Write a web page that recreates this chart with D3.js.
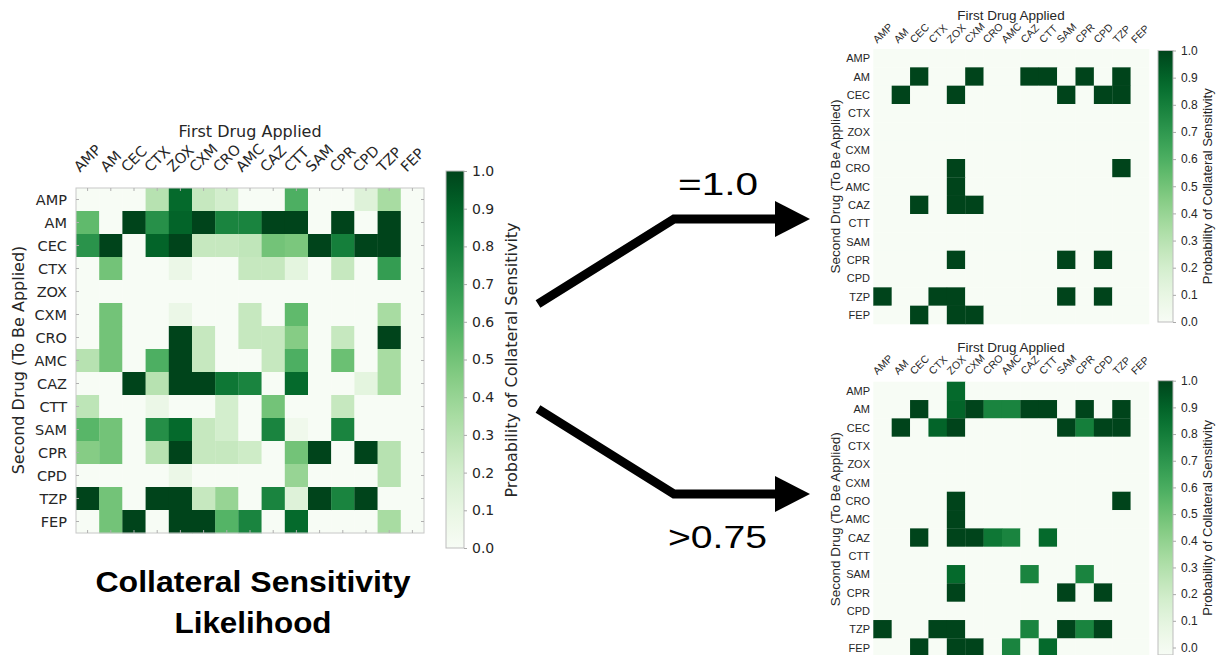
<!DOCTYPE html>
<html>
<head>
<meta charset="utf-8">
<script src="https://cdn.jsdelivr.net/npm/d3@7"></script>
<style>
  html, body { margin: 0; padding: 0; background: #ffffff; }
  svg { display: block; }
</style>
</head>
<body>
<svg id="chart" width="1219" height="655"></svg>
<script>
// ---------- DATA ----------
const drugs = ["AMP","AM","CEC","CTX","ZOX","CXM","CRO","AMC","CAZ","CTT","SAM","CPR","CPD","TZP","FEP"];
// rows: second drug (to be applied); columns: first drug applied (same order as drugs)
const rowAMP = [0.00,0.00,0.00,0.30,0.88,0.25,0.20,0.00,0.00,0.60,0.00,0.00,0.15,0.35,0.00];
const rowAM  = [0.55,0.00,1.00,0.73,0.90,1.00,0.78,0.78,1.00,1.00,0.00,1.00,0.00,1.00,0.00];
const rowCEC = [0.72,1.00,0.00,0.90,1.00,0.25,0.25,0.27,0.50,0.48,1.00,0.80,1.00,1.00,0.00];
const rowCTX = [0.00,0.50,0.00,0.00,0.08,0.00,0.00,0.25,0.25,0.12,0.00,0.25,0.00,0.68,0.00];
const rowZOX = [0.00,0.00,0.00,0.00,0.00,0.00,0.00,0.00,0.00,0.00,0.00,0.00,0.00,0.00,0.00];
const rowCXM = [0.00,0.50,0.00,0.00,0.08,0.00,0.00,0.25,0.00,0.55,0.00,0.00,0.00,0.35,0.00];
const rowCRO = [0.00,0.50,0.00,0.00,1.00,0.25,0.00,0.25,0.25,0.45,0.00,0.25,0.00,1.00,0.00];
const rowAMC = [0.30,0.50,0.00,0.60,1.00,0.25,0.00,0.00,0.25,0.60,0.00,0.52,0.00,0.35,0.00];
const rowCAZ = [0.00,0.00,1.00,0.30,1.00,1.00,0.83,0.78,0.00,0.88,0.00,0.00,0.12,0.35,0.00];
const rowCTT = [0.28,0.00,0.00,0.08,0.00,0.00,0.20,0.00,0.50,0.00,0.00,0.25,0.00,0.00,0.00];
const rowSAM = [0.57,0.50,0.00,0.74,0.88,0.25,0.20,0.00,0.78,0.05,0.00,0.78,0.00,0.00,0.00];
const rowCPR = [0.45,0.50,0.00,0.30,1.00,0.25,0.25,0.22,0.00,0.50,1.00,0.00,1.00,0.30,0.00];
const rowCPD = [0.00,0.00,0.00,0.00,0.08,0.00,0.00,0.00,0.00,0.40,0.00,0.00,0.00,0.30,0.00];
const rowTZP = [1.00,0.50,0.00,1.00,1.00,0.25,0.40,0.00,0.78,0.15,1.00,0.78,1.00,0.00,0.00];
const rowFEP = [0.00,0.50,1.00,0.00,1.00,1.00,0.58,0.78,0.00,0.88,0.00,0.00,0.00,0.35,0.00];
const matrixRows = [rowAMP,rowAM,rowCEC,rowCTX,rowZOX,rowCXM,rowCRO,rowAMC,rowCAZ,rowCTT,rowSAM,rowCPR,rowCPD,rowTZP,rowFEP];
const colorbarTicks = [0.0,0.1,0.2,0.3,0.4,0.5,0.6,0.7,0.8,0.9,1.0];
const thresholdLabels = ["=1.0", ">0.75"];

// ---------- HELPERS ----------
const svg = d3.select("#chart");
const color = d3.scaleSequential(d3.interpolateGreens).domain([0, 1]);
const cells = [];
matrixRows.forEach((row, r) => row.forEach((v, c) => cells.push({ row: drugs[r], col: drugs[c], v })));

const defs = svg.append("defs");
const grad = defs.append("linearGradient").attr("id", "greensGrad")
  .attr("x1", "0").attr("y1", "1").attr("x2", "0").attr("y2", "0");
d3.range(0, 1.0001, 0.05).forEach(t => grad.append("stop").attr("offset", t).attr("stop-color", color(t)));

function rotatedLabels(g, x, bottomY, fontSize, family, fill) {
  drugs.forEach(d => {
    const t = g.append("text")
      .attr("text-anchor", "middle")
      .attr("dominant-baseline", "central")
      .style("font-family", family)
      .style("font-size", fontSize + "px")
      .attr("fill", fill)
      .text(d);
    const L = t.node().getComputedTextLength();
    const h = 0.72 * fontSize;
    const cy = bottomY - (L + h) / (2 * Math.SQRT2);
    const cx = x(d) + x.bandwidth() / 2;
    t.attr("transform", `translate(${cx},${cy}) rotate(-45)`);
  });
}

function drawHeatmap(g, data, x, y) {
  g.selectAll("rect.cell").data(data).join("rect")
    .attr("class", "cell")
    .attr("x", d => x(d.col))
    .attr("y", d => y(d.row))
    .attr("width", x.bandwidth() + 0.3)
    .attr("height", y.bandwidth() + 0.3)
    .attr("fill", d => color(d.v));
}

function drawColorbar(g, x0, w, cbY, yTop, yBottom, fontSize, family, tickFill) {
  g.append("rect").attr("x", x0).attr("y", yTop).attr("width", w).attr("height", yBottom - yTop)
    .attr("fill", "url(#greensGrad)").attr("stroke", "#bdbdbd").attr("stroke-width", 1);
  const ax = d3.axisRight(cbY).tickValues(colorbarTicks).tickFormat(d3.format(".1f")).tickSize(3).tickPadding(5);
  const a = g.append("g").attr("transform", `translate(${x0 + w},0)`).call(ax);
  a.select(".domain").remove();
  a.selectAll(".tick line").attr("stroke", "#aaaaaa");
  a.selectAll(".tick text").style("font-family", family).style("font-size", fontSize + "px").attr("fill", tickFill);
}

// ---------- MAIN HEATMAP ----------
const mainFont = "'DejaVu Sans', sans-serif";
const textCol = "#262626";
const mx = d3.scaleBand().domain(drugs).range([76, 424]);
const my = d3.scaleBand().domain(drugs).range([188, 533]);
const gMain = svg.append("g");
drawHeatmap(gMain, cells, mx, my);
gMain.append("rect").attr("x", 76).attr("y", 188).attr("width", 348).attr("height", 345)
  .attr("fill", "none").attr("stroke", "#c8c8c8").attr("stroke-width", 1);

// inward ticks
const tickCol = "#b0b0b0";
drugs.forEach(d => {
  const cx = mx(d) + mx.bandwidth() / 2, cy = my(d) + my.bandwidth() / 2;
  gMain.append("line").attr("x1", cx).attr("x2", cx).attr("y1", 188).attr("y2", 191).attr("stroke", tickCol);
  gMain.append("line").attr("x1", cx).attr("x2", cx).attr("y1", 533).attr("y2", 530).attr("stroke", tickCol);
  gMain.append("line").attr("y1", cy).attr("y2", cy).attr("x1", 76).attr("x2", 79).attr("stroke", tickCol);
  gMain.append("line").attr("y1", cy).attr("y2", cy).attr("x1", 424).attr("x2", 421).attr("stroke", tickCol);
});

// y labels
gMain.selectAll("text.ylab").data(drugs).join("text")
  .attr("class", "ylab")
  .attr("x", 67).attr("y", d => my(d) + my.bandwidth() / 2)
  .attr("text-anchor", "end").attr("dominant-baseline", "central")
  .style("font-family", mainFont).style("font-size", "14.5px").attr("fill", textCol)
  .text(d => d);
rotatedLabels(gMain, mx, 173, 14.5, mainFont, textCol);

gMain.append("text").attr("x", 250).attr("y", 137).attr("text-anchor", "middle")
  .style("font-family", mainFont).style("font-size", "16px").attr("fill", textCol).text("First Drug Applied");
gMain.append("text").attr("transform", "translate(18,360) rotate(-90)")
  .attr("text-anchor", "middle").attr("dominant-baseline", "central")
  .style("font-family", mainFont).style("font-size", "16px").attr("fill", textCol).text("Second Drug (To Be Applied)");

const mainCbY = d3.scaleLinear().domain([0, 1]).range([548, 171]);
drawColorbar(gMain, 446, 18, mainCbY, 171, 548, 14, mainFont, textCol);
gMain.append("text").attr("transform", "translate(511,360) rotate(-90)")
  .attr("text-anchor", "middle").attr("dominant-baseline", "central")
  .style("font-family", mainFont).style("font-size", "16px").attr("fill", textCol).text("Probability of Collateral Sensitivity");

// title
const titleFont = "'Liberation Sans', Arial, sans-serif";
svg.append("text").attr("x", 253).attr("y", 592).attr("text-anchor", "middle")
  .attr("textLength", 315).attr("lengthAdjust", "spacingAndGlyphs")
  .style("font-family", titleFont).style("font-weight", "bold").style("font-size", "29px").attr("fill", "#000")
  .text("Collateral Sensitivity");
svg.append("text").attr("x", 253).attr("y", 633).attr("text-anchor", "middle")
  .attr("textLength", 157).attr("lengthAdjust", "spacingAndGlyphs")
  .style("font-family", titleFont).style("font-weight", "bold").style("font-size", "29px").attr("fill", "#000")
  .text("Likelihood");

// ---------- ARROWS ----------
const arrowLine = d3.line();
const gArr = svg.append("g");
gArr.append("path").attr("d", arrowLine([[538, 304], [674, 219], [778, 219]]))
  .attr("fill", "none").attr("stroke", "#000").attr("stroke-width", 9).attr("stroke-linejoin", "miter");
gArr.append("path").attr("d", arrowLine([[775, 201], [810, 219], [775, 237]]) + "Z").attr("fill", "#000");
gArr.append("path").attr("d", arrowLine([[538, 409], [674, 494], [778, 494]]))
  .attr("fill", "none").attr("stroke", "#000").attr("stroke-width", 9).attr("stroke-linejoin", "miter");
gArr.append("path").attr("d", arrowLine([[775, 476], [810, 494], [775, 512]]) + "Z").attr("fill", "#000");
svg.append("text").attr("x", 678).attr("y", 195).attr("textLength", 80).attr("lengthAdjust", "spacingAndGlyphs")
  .style("font-family", titleFont).style("font-size", "32px").style("font-weight", "300").attr("fill", "#000")
  .text(thresholdLabels[0]);
svg.append("text").attr("x", 668).attr("y", 548).attr("textLength", 99).attr("lengthAdjust", "spacingAndGlyphs")
  .style("font-family", titleFont).style("font-size", "32px").style("font-weight", "300").attr("fill", "#000")
  .text(thresholdLabels[1]);

// ---------- SMALL PANELS ----------
const smallFont = "'Liberation Sans', Arial, sans-serif";
function smallPanel(filterFn, y0, y1, cbTop, cbBottom, cbZero, titleY, labelBottom) {
  const g = svg.append("g");
  const x = d3.scaleBand().domain(drugs).range([873.3, 1149]);
  const y = d3.scaleBand().domain(drugs).range([y0, y1]);
  const data = cells.map(d => ({ row: d.row, col: d.col, v: filterFn(d.v) ? d.v : 0 }));
  drawHeatmap(g, data, x, y);
  g.selectAll("text.ylab").data(drugs).join("text")
    .attr("class", "ylab")
    .attr("x", 870).attr("y", d => y(d) + y.bandwidth() / 2)
    .attr("text-anchor", "end").attr("dominant-baseline", "central")
    .style("font-family", smallFont).style("font-size", "11px").attr("fill", textCol)
    .text(d => d);
  rotatedLabels(g, x, labelBottom, 10.5, smallFont, textCol);
  g.append("text").attr("x", 1011).attr("y", titleY).attr("text-anchor", "middle")
    .style("font-family", smallFont).style("font-size", "13.5px").attr("fill", textCol).text("First Drug Applied");
  g.append("text").attr("transform", `translate(835,${(y0 + y1) / 2}) rotate(-90)`)
    .attr("text-anchor", "middle").attr("dominant-baseline", "central")
    .style("font-family", smallFont).style("font-size", "13.5px").attr("fill", textCol).text("Second Drug (To Be Applied)");
  const cbY = d3.scaleLinear().domain([0, 1]).range([cbZero, cbTop]);
  drawColorbar(g, 1158, 15, cbY, cbTop, cbBottom, 12, smallFont, textCol);
  g.append("text").attr("transform", `translate(1207,${(cbTop + cbBottom) / 2}) rotate(-90)`)
    .attr("text-anchor", "middle").attr("dominant-baseline", "central")
    .style("font-family", smallFont).style("font-size", "13px").attr("fill", textCol).text("Probability of Collateral Sensitivity");
}
smallPanel(v => v >= 1.0, 49, 324, 50.5, 322, 322, 20, 43.5);
smallPanel(v => v > 0.75, 381.7, 656.7, 380.7, 655, 647.5, 351.7, 375);
</script>
</body>
</html>
